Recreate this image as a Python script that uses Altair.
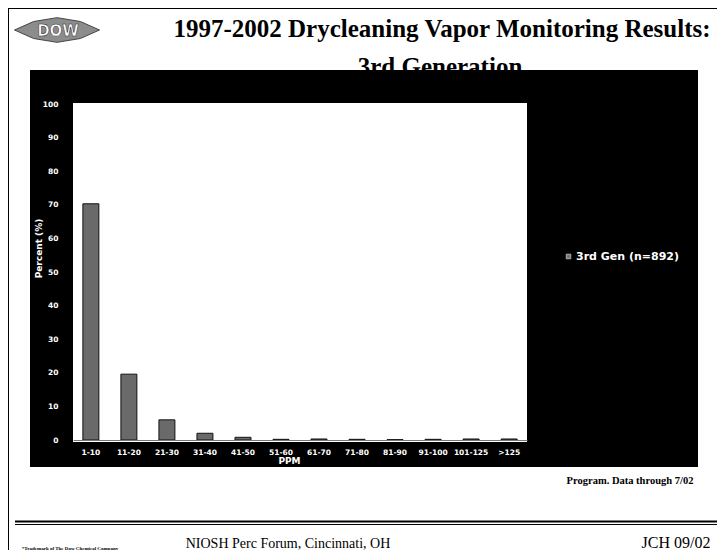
import altair as alt
import pandas as pd

categories = ["1-10", "11-20", "21-30", "31-40", "41-50", "51-60",
              "61-70", "71-80", "81-90", "91-100", "101-125", ">125"]
percent = [70.3, 19.6, 6.0, 2.0, 0.8, 0.2, 0.3, 0.2, 0.1, 0.2, 0.3, 0.3]
series_name = "3rd Gen (n=892)"
y_ticks = [0, 10, 20, 30, 40, 50, 60, 70, 80, 90, 100]

title1 = "1997-2002 Drycleaning Vapor Monitoring Results:"
title2 = "3rd Generation"
source_note = "Program.  Data through 7/02"
footer_mid = "NIOSH Perc Forum, Cincinnati, OH"
footer_right = "JCH 09/02"
footer_left = "*Trademark of The Dow Chemical Company"

W, H = 454, 336

df = pd.DataFrame({"PPM": categories, "Percent": percent,
                   "series": [series_name] * len(categories)})
one = alt.Data(values=[{"k": 1}])

sans = "DejaVu Sans"
serif = "Liberation Serif"

def txt(s, x, y, size, font=serif, weight="normal", color="black", align="center", baseline="alphabetic"):
    return alt.Chart(one).mark_text(
        text=s, fontSize=size, font=font, fontWeight=weight, color=color,
        align=align, baseline=baseline
    ).encode(x=alt.value(x), y=alt.value(y))

def box(x, x2, y, y2, color):
    return alt.Chart(one).mark_rect(color=color).encode(
        x=alt.value(x), x2=alt.value(x2), y=alt.value(y), y2=alt.value(y2))

def hline(x, x2, y, width, color="black"):
    return alt.Chart(one).mark_rule(color=color, strokeWidth=width).encode(
        x=alt.value(x), x2=alt.value(x2), y=alt.value(y))

def vline(x, y, y2, width, color="black"):
    return alt.Chart(one).mark_rule(color=color, strokeWidth=width).encode(
        x=alt.value(x), y=alt.value(y), y2=alt.value(y2))

title2_layer = txt(title2, 367, -29, 25, weight="bold")
panel = box(-43, 625, -34, 363, "black")
plot_bg = box(0, W, -1, H + 2, "white")

bars = alt.Chart(df).mark_bar(stroke="#111", strokeWidth=1).encode(
    x=alt.X("PPM:N", sort=categories,
            scale=alt.Scale(paddingInner=0.58, paddingOuter=0.26),
            axis=alt.Axis(title="PPM", labelAngle=0, labelColor="white",
                          labelFont=sans, labelFontWeight="bold", labelFontSize=7.5,
                          labelPadding=8, ticks=False, domainColor="#777",
                          titleColor="white", titleFont=sans, titleFontWeight="bold",
                          titleFontSize=9, titlePadding=1, titleX=216, zindex=1)),
    y=alt.Y("Percent:Q", scale=alt.Scale(domain=[0, 100], nice=False),
            axis=alt.Axis(title="Percent (%)", values=y_ticks, labelColor="white",
                          labelFont=sans, labelFontWeight="bold", labelFontSize=7.5,
                          labelPadding=15, ticks=False, domain=False, grid=False,
                          titleColor="white", titleFont=sans, titleFontWeight="bold",
                          titleFontSize=9, titleX=-30, titleY=144, zindex=1)),
    color=alt.Color("series:N", scale=alt.Scale(range=["#6a6a6a"]),
                    legend=alt.Legend(title=None, orient="none", legendX=490, legendY=147,
                                      labelColor="white", labelFont=sans,
                                      labelFontWeight="bold", labelFontSize=11,
                                      symbolType="square", symbolSize=16, labelOffset=2,
                                      symbolStrokeColor="#999", zindex=1)),
)

logo = alt.Chart(one).mark_point(
    shape="M-1,0L-0.55,-0.2L0,-0.29L0.55,-0.2L1,0L0.55,0.2L0,0.29L-0.55,0.2Z",
    size=7225, filled=True, fill="#8c8c8c", stroke="#444", strokeWidth=1, opacity=1
).encode(x=alt.value(-16), y=alt.value(-74))
logo_text = alt.Chart(one).mark_text(
    text="DOW", fontSize=15, font=sans, fontWeight="bold", color="white",
    stroke="#333", strokeWidth=0.6, baseline="middle"
).encode(x=alt.value(-15), y=alt.value(-73))

layers = [
    title2_layer, panel, plot_bg, bars,
    logo, logo_text,
    txt(title1, 369, -67, 25, weight="bold"),
    txt(source_note, 557, 380, 10.5, weight="bold"),
    hline(-58, 644, 417.5, 2),
    hline(-58, 644, 420.5, 1),
    txt(footer_mid, 215, 444, 14),
    txt(footer_right, 603, 444, 16),
    txt(footer_left, -3, 446, 5, weight="bold"),
    vline(-64.5, -96, 446, 1),
    hline(-65, 644, -95.5, 1),
]

chart = alt.layer(*layers).properties(
    width=W, height=H,
    padding={"left": 65, "top": 96, "right": 190, "bottom": 110},
    autosize=alt.AutoSizeParams(type="none"),
    background="white",
).configure_view(stroke=None)

chart.save("out.html", embed_options={"renderer": "svg", "actions": False})
